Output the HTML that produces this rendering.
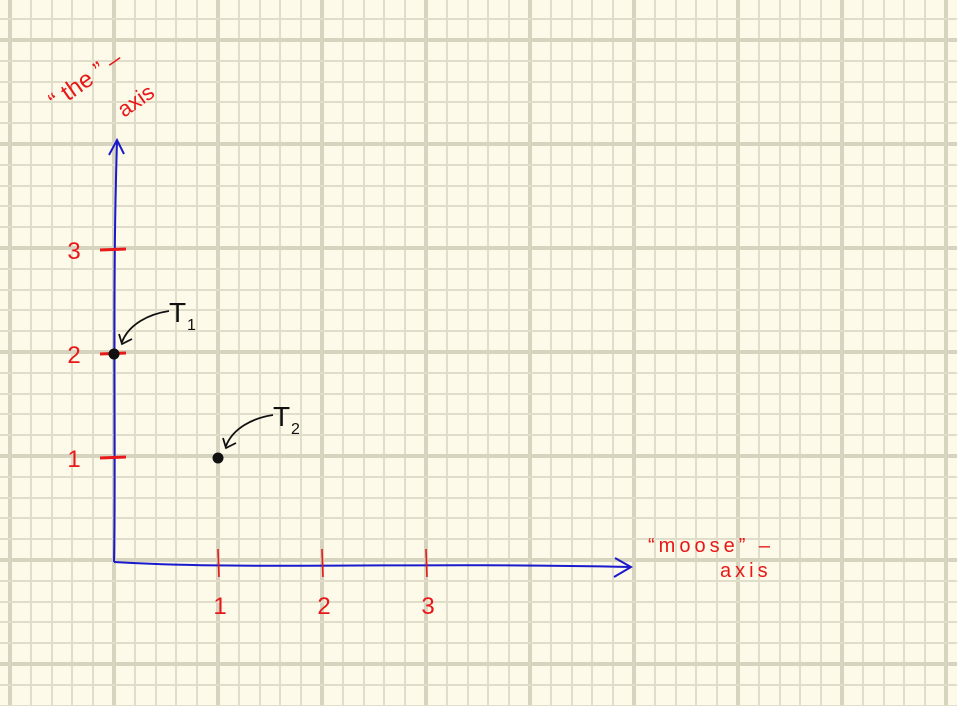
<!DOCTYPE html>
<html><head><meta charset="utf-8"><style>
html,body{margin:0;padding:0;background:#fdfaea;}
svg{display:block;}
.hw{font-family:"Liberation Sans",sans-serif;}
</style></head><body>
<svg id="c" width="957" height="706">
<g id="grid" shape-rendering="crispEdges"></g>
<g id="marks"></g>
</svg>
<script>
const xTicks=[1,2,3];
const yTicks=[1,2,3];
const pointLabels=["T1","T2"];
const pointX=[0,1];
const pointY=[2,1];
const ox=114, oy=562, unit=104;
const sx=v=>ox+v*unit, sy=v=>oy-v*unit;
const NS="http://www.w3.org/2000/svg";
function mk(tag,attrs,parent){const e=document.createElementNS(NS,tag);for(const k in attrs)e.setAttribute(k,attrs[k]);parent.appendChild(e);return e;}
const grid=document.getElementById('grid'), marks=document.getElementById('marks');
for(let i=-10;i<60;i++){const x=Math.round(10+i*20.8);if(x<-2||x>960)continue;const major=(i%5===0);
 const l=mk('rect',{x:x-(major?2:1),y:0,width:major?4:2,height:706,fill:major?'#d6d3bf':'#e0ddcb'},grid);
 }
for(let i=-10;i<40;i++){const y=Math.round(40+i*20.8);if(y<-2||y>710)continue;const major=(i%5===0);
 const l=mk('rect',{x:0,y:y-(major?2:1),width:957,height:major?4:2,fill:major?'#d6d3bf':'#e0ddcb'},grid);
 }
let a=mk('path',{d:`M${ox},${oy} C116,450 112,300 117,142`,stroke:'#1a1acc','stroke-width':2,fill:'none'},marks);

a=mk('path',{d:`M109,155 L117,140 L124,154`,stroke:'#1a1acc','stroke-width':2,fill:'none'},marks);

a=mk('path',{d:`M${ox},${oy} C250,570 400,562 630,567`,stroke:'#1a1acc','stroke-width':2,fill:'none'},marks);

a=mk('path',{d:`M615,558 L631,567 L614,577`,stroke:'#1a1acc','stroke-width':2,fill:'none'},marks);

xTicks.forEach(v=>{const x=sx(v);
 let t=mk('line',{x1:x,y1:549,x2:x+1,y2:577,stroke:'#e81818','stroke-width':1.6},marks);
 
 let tx=mk('text',{x:x+2,y:614,'font-size':24,fill:'#e81818','text-anchor':'middle',class:'hw'},marks);tx.textContent=v;
 });
yTicks.forEach(v=>{const y=sy(v);
 let t=mk('line',{x1:100,y1:y,x2:126,y2:y-1,stroke:'#e81818','stroke-width':3},marks);
 
 let tx=mk('text',{x:74,y:y+9,'font-size':24,fill:'#e81818','text-anchor':'middle',class:'hw'},marks);tx.textContent=v;
 });
pointX.forEach((v,i)=>{const x=sx(v),y=sy(pointY[i]);
 let c=mk('circle',{cx:x,cy:y,r:5.5,fill:'#111'},marks);
 
 let p=mk('path',{d:`M${x+55},${y-43} C${x+35},${y-40} ${x+15},${y-30} ${x+8},${y-12} M${x+5},${y-20} L${x+8},${y-10} L${x+18},${y-15}`,stroke:'#111','stroke-width':1.8,fill:'none'},marks);
 
 let tx=mk('text',{x:x+55,y:y-32,'font-size':28,fill:'#111',class:'hw'},marks);tx.textContent='T';
 
 let sb=mk('text',{x:x+73,y:y-24,'font-size':16,fill:'#111',class:'hw'},marks);sb.textContent=pointLabels[i].slice(1);
 });
</script>
<div style="position:absolute;left:0;top:0;width:957px;height:706px;pointer-events:none">
<svg width="957" height="706">
<text x="56" y="110" transform="rotate(-35 56 110)" font-family="Liberation Sans,sans-serif" font-size="24" fill="#e81818">“ the ” –</text>
<text x="124" y="118" transform="rotate(-35 124 118)" font-family="Liberation Sans,sans-serif" font-size="22" fill="#e81818">axis</text>
<text x="648" y="552" font-family="Liberation Sans,sans-serif" font-size="20" fill="#e81818" letter-spacing="4">“moose” –</text>
<text x="720" y="577" font-family="Liberation Sans,sans-serif" font-size="20" fill="#e81818" letter-spacing="4">axis</text>
</svg></div>
</body></html>
